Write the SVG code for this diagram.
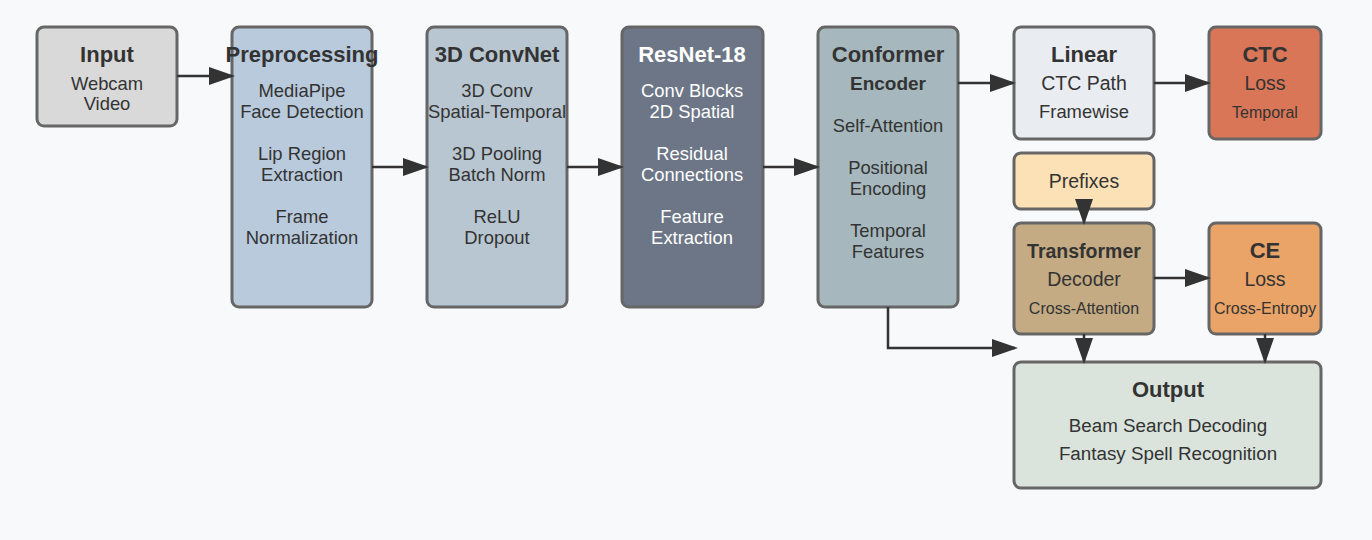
<svg xmlns="http://www.w3.org/2000/svg" width="1372" height="540" viewBox="0 0 1372 540">
<style>
.box{stroke:#666;stroke-width:3}
text{font-family:"Liberation Sans",Arial,sans-serif;fill:#333;text-anchor:middle}
.t{font-size:22px;font-weight:bold}
.b{font-size:18.4px}
.m{font-size:19.5px}
.s{font-size:16px}
.w{fill:#fff}
.c{fill:none;stroke:#333;stroke-width:2.5}
</style>
<defs>
<marker id="ah" markerUnits="userSpaceOnUse" markerWidth="26" markerHeight="18" refX="23" refY="9" orient="auto">
<path d="M0,0 L26,9 L0,18 z" fill="#333"/>
</marker>
</defs>
<rect width="1372" height="540" fill="#f8f9fa"/>
<g id="input">
<rect class="box" x="37" y="27" width="140" height="99" rx="7" fill="#d9d9d9"/>
<text class="t" x="107" y="62">Input</text>
<text class="b" x="107" y="90">Webcam</text>
<text class="b" x="107" y="110">Video</text>
</g>
<g id="preprocessing">
<rect class="box" x="232" y="27" width="140" height="280" rx="7" fill="#b8cadb"/>
<text class="t" x="302" y="62">Preprocessing</text>
<text class="b" x="302" y="97">MediaPipe</text>
<text class="b" x="302" y="118">Face Detection</text>
<text class="b" x="302" y="160">Lip Region</text>
<text class="b" x="302" y="181">Extraction</text>
<text class="b" x="302" y="223">Frame</text>
<text class="b" x="302" y="244">Normalization</text>
</g>
<g id="convnet3d">
<rect class="box" x="427" y="27" width="140" height="280" rx="7" fill="#b8c6d1"/>
<text class="t" x="497" y="62">3D ConvNet</text>
<text class="b" x="497" y="97">3D Conv</text>
<text class="b" x="497" y="118">Spatial-Temporal</text>
<text class="b" x="497" y="160">3D Pooling</text>
<text class="b" x="497" y="181">Batch Norm</text>
<text class="b" x="497" y="223">ReLU</text>
<text class="b" x="497" y="244">Dropout</text>
</g>
<g id="resnet18">
<rect class="box" x="622" y="27" width="141" height="280" rx="7" fill="#6c7686"/>
<text class="t w" x="692" y="62">ResNet-18</text>
<text class="b w" x="692" y="97">Conv Blocks</text>
<text class="b w" x="692" y="118">2D Spatial</text>
<text class="b w" x="692" y="160">Residual</text>
<text class="b w" x="692" y="181">Connections</text>
<text class="b w" x="692" y="223">Feature</text>
<text class="b w" x="692" y="244">Extraction</text>
</g>
<g id="conformer">
<rect class="box" x="818" y="27" width="140" height="280" rx="7" fill="#a6b8bd"/>
<text class="t" x="888" y="62">Conformer</text>
<text style="font-size:19px;font-weight:bold" x="888" y="90">Encoder</text>
<text class="b" x="888" y="132">Self-Attention</text>
<text class="b" x="888" y="174">Positional</text>
<text class="b" x="888" y="195">Encoding</text>
<text class="b" x="888" y="237">Temporal</text>
<text class="b" x="888" y="258">Features</text>
</g>
<g id="linear">
<rect class="box" x="1014" y="27" width="140" height="112" rx="7" fill="#e9ecf0"/>
<text class="t" x="1084" y="62">Linear</text>
<text class="m" x="1084" y="90">CTC Path</text>
<text class="b" x="1084" y="118">Framewise</text>
</g>
<g id="ctc">
<rect class="box" x="1209" y="27" width="112" height="112" rx="7" fill="#d97657"/>
<text class="t" x="1265" y="62">CTC</text>
<text class="m" x="1265" y="90">Loss</text>
<text class="s" x="1265" y="118">Temporal</text>
</g>
<g id="prefixes">
<rect class="box" x="1014" y="153" width="140" height="56" rx="7" fill="#fbe1b5"/>
<text class="m" x="1084" y="188">Prefixes</text>
</g>
<g id="transformer">
<rect class="box" x="1014" y="223" width="140" height="111" rx="7" fill="#c4ab83"/>
<text style="font-size:19.5px;font-weight:bold" x="1084" y="258">Transformer</text>
<text class="m" x="1084" y="286">Decoder</text>
<text class="s" x="1084" y="314">Cross-Attention</text>
</g>
<g id="ce">
<rect class="box" x="1209" y="223" width="112" height="111" rx="7" fill="#eaa467"/>
<text class="t" x="1265" y="258">CE</text>
<text class="m" x="1265" y="286">Loss</text>
<text class="s" x="1265" y="314">Cross-Entropy</text>
</g>
<g id="output">
<rect class="box" x="1014" y="362" width="307" height="126" rx="7" fill="#dae4dc"/>
<text class="t" x="1168" y="397">Output</text>
<text style="font-size:18.8px" x="1168" y="432">Beam Search Decoding</text>
<text style="font-size:18.8px" x="1168" y="460">Fantasy Spell Recognition</text>
</g>
<g id="connectors">
<path class="c" d="M177,76 H232" marker-end="url(#ah)"/>
<path class="c" d="M372,167 H426" marker-end="url(#ah)"/>
<path class="c" d="M567,167 H621" marker-end="url(#ah)"/>
<path class="c" d="M763,167 H817" marker-end="url(#ah)"/>
<path class="c" d="M958,83 H1013" marker-end="url(#ah)"/>
<path class="c" d="M1154,83 H1208" marker-end="url(#ah)"/>
<path class="c" d="M1084,209 V222" marker-end="url(#ah)"/>
<path class="c" d="M1154,278 H1208" marker-end="url(#ah)"/>
<path class="c" d="M1084,334 V361" marker-end="url(#ah)"/>
<path class="c" d="M1265,334 V361" marker-end="url(#ah)"/>
<path class="c" d="M888,307 V348 H1015" marker-end="url(#ah)"/>
</g>
</svg>
